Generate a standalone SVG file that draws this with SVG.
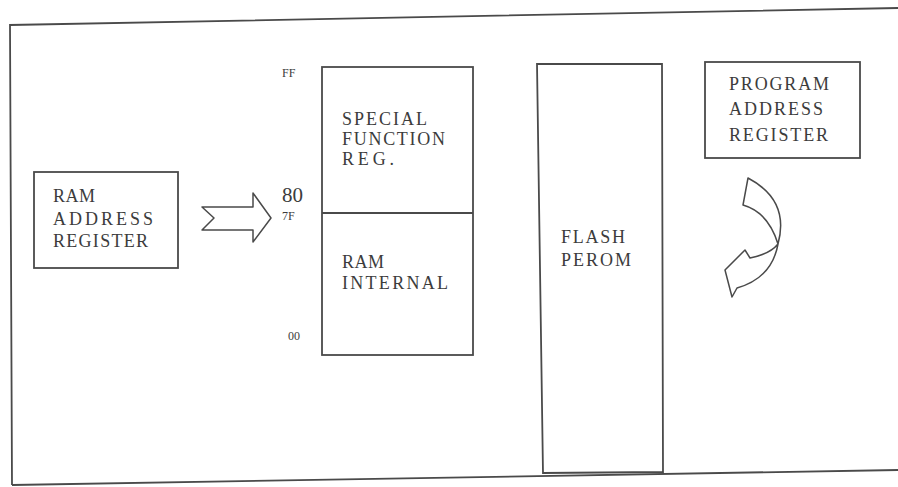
<svg xmlns="http://www.w3.org/2000/svg" width="898" height="487" viewBox="0 0 898 487">
<style>
.box{fill:none;stroke:#4a4a4a;stroke-width:1.8}
.t{font-family:"Liberation Serif","Times New Roman",serif;font-size:18px;fill:#3c3c3c}
.s{font-family:"Liberation Serif","Times New Roman",serif;font-size:12px;fill:#3c3c3c}
.ar{fill:#fff;stroke:#4a4a4a;stroke-width:1.5;stroke-linejoin:round}
</style>
<rect width="898" height="487" fill="#fff"/>
<g id="frame">
<path class="box" d="M12,485 L10,25 L898,8"/>
<path class="box" d="M12,485 L898,470"/>
</g>
<g id="ram-address-register">
<rect class="box" x="34" y="172" width="144" height="96"/>
<text class="t" x="53" y="202" textLength="42" lengthAdjust="spacing">RAM</text>
<text class="t" x="53" y="225" textLength="100" lengthAdjust="spacing">ADDRESS</text>
<text class="t" x="53" y="247" textLength="95" lengthAdjust="spacing">REGISTER</text>
</g>
<g id="memory">
<rect class="box" x="322" y="67" width="151" height="288"/>
<line class="box" x1="322" y1="213" x2="473" y2="213"/>
<text class="s" x="282" y="77">FF</text>
<text class="t" x="282" y="202" style="font-size:21px">80</text>
<text class="s" x="282" y="220">7F</text>
<text class="s" x="288" y="340">00</text>
<text class="t" x="342" y="125" textLength="85" lengthAdjust="spacing">SPECIAL</text>
<text class="t" x="342" y="145" textLength="103" lengthAdjust="spacing">FUNCTION</text>
<text class="t" x="342" y="165" textLength="52" lengthAdjust="spacing">REG.</text>
<text class="t" x="342" y="268" textLength="42" lengthAdjust="spacing">RAM</text>
<text class="t" x="342" y="289" textLength="106" lengthAdjust="spacing">INTERNAL</text>
</g>
<g id="flash-perom">
<path class="box" d="M537,64 L662,64 L663,472 L543,473 Z"/>
<text class="t" x="561" y="243" textLength="64" lengthAdjust="spacing">FLASH</text>
<text class="t" x="561" y="266" textLength="70" lengthAdjust="spacing">PEROM</text>
</g>
<g id="program-address-register">
<rect class="box" x="705" y="62" width="155" height="96"/>
<text class="t" x="729" y="90" textLength="100" lengthAdjust="spacing">PROGRAM</text>
<text class="t" x="729" y="115" textLength="94" lengthAdjust="spacing">ADDRESS</text>
<text class="t" x="729" y="141" textLength="99" lengthAdjust="spacing">REGISTER</text>
</g>
<g id="connectors">
<path class="ar" d="M202,207 L253,207 L253,193 L271,218 L253,242 L253,230 L202,230 L214,218 Z"/>
<path class="ar" d="M748,178 Q790,200 778,244 Q772,278 737,288 L732,297 L725,270 L745,250 L750,258 Q770,254 778,244 Q768,212 743,205 Z"/>
</g>
</svg>
